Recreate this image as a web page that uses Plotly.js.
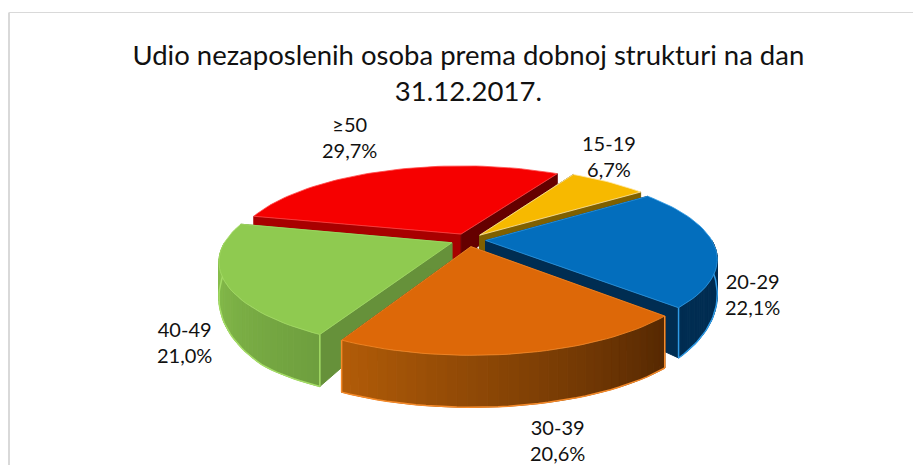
<!DOCTYPE html>
<html>
<head>
<meta charset="utf-8">
<script src="https://cdn.plot.ly/plotly-3.0.1.min.js"></script>
<style>html,body{margin:0;padding:0;background:#fff}</style>
</head>
<body>
<div id="chart" style="width:913px;height:465px"></div>
<script>
const categories = ['15-19', '20-29', '30-39', '40-49', '≥50'];
const values = [6.7, 22.1, 20.6, 21.0, 29.7];
const topColors = ['#f7b900', '#036ebd', '#dd6808', '#8fca50', '#f60000'];
const edgeColors = ['#ffe9a8', '#2f9be6', '#f58a2a', '#a4dc66', '#ff4a4a'];
const cutColors = [['#7f6000', '#7f6000'], ['#002d52', '#002d52'], ['#5c2b03', '#5c2b03'], ['#66913a', '#66913a'], ['#a80000', '#650000']];
const wallLeft = ['#806000', '#002d52', '#b25c08', '#8bc34e', '#a00000'];
const wallRight = ['#806000', '#002d52', '#552802', '#6e9e3e', '#a00000'];
const labelPx = [[609, 156], [752, 294], [557, 440], [184, 342], [349, 137]];

const CX = 468, CY = 240, RX = 226, RY = 84, PERSP = 0.2, PULL = 0.078;
const START = 30;
const total = values.reduce((a, b) => a + b, 0);

function project(u, v, down) {
  const s = 1 / (1 - PERSP * v);
  const y = CY + RY * v * s;
  return [CX + RX * u * s, y + (down ? Math.min(52, Math.max(10, 28 + 32 * v)) : 0)];
}
function disc(a, r) {
  const t = a * Math.PI / 180;
  return [r * Math.sin(t), -r * Math.cos(t)];
}
function hexMix(c1, c2, t) {
  const p = (c, i) => parseInt(c.substr(1 + 2 * i, 2), 16);
  return 'rgb(' + [0, 1, 2].map(i => Math.round(p(c1, i) + (p(c2, i) - p(c1, i)) * t)).join(',') + ')';
}
function poly(pts, fill, line, width) {
  return {
    type: 'scatter', mode: 'lines', hoverinfo: 'skip', showlegend: false,
    x: pts.map(p => p[0]).concat(pts[0][0]), y: pts.map(p => p[1]).concat(pts[0][1]),
    fill: 'toself', fillcolor: fill,
    line: { color: line || fill, width: width === undefined ? 1 : width }
  };
}

const slices = [];
let acc = START;
values.forEach((val, i) => {
  const a0 = acc, a1 = acc + val / total * 360;
  acc = a1;
  const mid = (a0 + a1) / 2;
  const off = disc(mid, PULL);
  const at = (a, r, down) => { const d = disc(a, r); return project(off[0] + d[0], off[1] + d[1], down); };
  slices.push({ i, a0, a1, at });
});

const traces = [];
// back-to-front painter order
[4, 0, 1, 3, 2].forEach(idx => {
  const s = slices[idx], at = s.at, i = s.i;
  // radial cut faces
  traces.push(poly([at(s.a0, 0), at(s.a0, 1), at(s.a0, 1, true), at(s.a0, 0, true)], cutColors[i][0]));
  traces.push(poly([at(s.a1, 0), at(s.a1, 1), at(s.a1, 1, true), at(s.a1, 0, true)], cutColors[i][1]));
  // outer wall, drawn only on the side facing the viewer
  const lo = Math.max(s.a0, 90), hi = Math.min(s.a1, 270);
  if (hi > lo) {
    const n = 36;
    for (let k = 0; k < n; k++) {
      const p = lo + (hi - lo) * k / n, q = lo + (hi - lo) * (k + 1) / n;
      const A = at(p, 1), B = at(q, 1), C = at(q, 1, true), D = at(p, 1, true);
      const col = hexMix(wallRight[i], wallLeft[i], (k + 0.5) / n);
      traces.push(poly([A, B, C, D], col));
    }
    const rim = [];
    for (let k = 0; k <= 36; k++) rim.push(at(lo + (hi - lo) * k / 36, 1, true));
    traces.push({ type: 'scatter', mode: 'lines', hoverinfo: 'skip', showlegend: false,
      x: rim.map(p => p[0]), y: rim.map(p => p[1]), line: { color: edgeColors[i], width: 1.5 } });
    [s.a0, s.a1].forEach(a => {
      if (a > 90 && a < 270) {
        const e = [at(a, 1), at(a, 1, true)];
        traces.push({ type: 'scatter', mode: 'lines', hoverinfo: 'skip', showlegend: false,
          x: e.map(p => p[0]), y: e.map(p => p[1]), line: { color: edgeColors[i], width: 1.5 } });
      }
    });
  }
  // top face
  const top = [at(s.a0, 0)];
  const steps = Math.ceil((s.a1 - s.a0) / 2);
  for (let k = 0; k <= steps; k++) top.push(at(s.a0 + (s.a1 - s.a0) * k / steps, 1));
  traces.push(poly(top, topColors[i], edgeColors[i], 0.8));
});

const annotations = categories.map((c, i) => ({
  x: labelPx[i][0], y: labelPx[i][1], xref: 'x', yref: 'y', showarrow: false, align: 'center',
  text: c + '<br>' + values[i].toFixed(1).replace('.', ',') + '%',
  font: { family: 'Lato, sans-serif', size: 20, color: '#111111' }
}));

const layout = {
  width: 913, height: 465, paper_bgcolor: '#fff', plot_bgcolor: '#fff',
  margin: { l: 0, r: 0, t: 0, b: 0 },
  title: {
    text: 'Udio nezaposlenih osoba prema dobnoj strukturi na dan<br>31.12.2017.',
    x: 0.513, xanchor: 'center', xref: 'paper', y: 0.86, yanchor: 'middle',
    font: { family: 'Lato, sans-serif', size: 27.5, color: '#111111' }
  },
  xaxis: { range: [0, 913], visible: false, fixedrange: true },
  yaxis: { range: [465, 0], visible: false, fixedrange: true },
  annotations,
  shapes: [
    { type: 'line', xref: 'x', yref: 'y', x0: 9, x1: 913, y0: 12.5, y1: 12.5, line: { color: '#d9d9d9', width: 1 } },
    { type: 'line', xref: 'x', yref: 'y', x0: 9, x1: 9, y0: 12.5, y1: 465, line: { color: '#d9d9d9', width: 2 } }
  ]
};
Plotly.newPlot('chart', traces, layout, { displayModeBar: false, staticPlot: true });
</script>
</body>
</html>
